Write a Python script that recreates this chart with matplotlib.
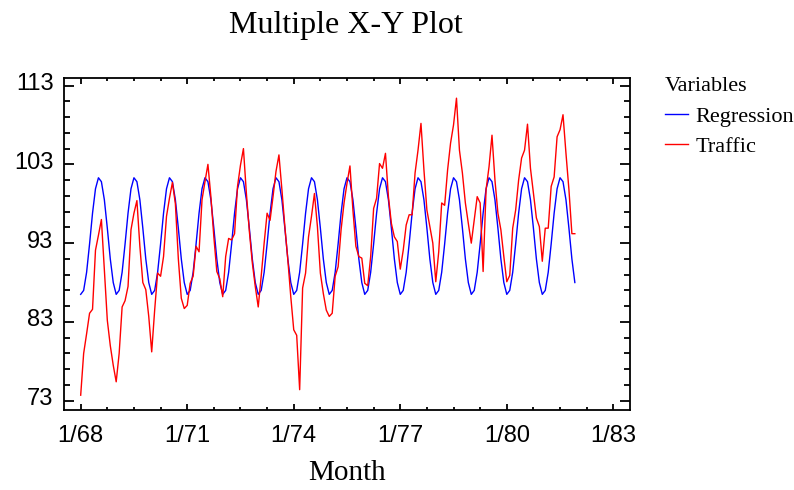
import matplotlib
matplotlib.use("Agg")
import matplotlib.pyplot as plt
import matplotlib.transforms as mtransforms
import numpy as np

# month index 0 = Jan 1968 ... 167 = Dec 1981
months = np.arange(168)

regression = [
    86.5, 87.0, 89.3, 92.9, 96.8, 99.9, 101.3, 100.8, 98.5, 94.9, 91.0, 88.0,
    86.5, 87.0, 89.3, 92.9, 96.8, 99.9, 101.3, 100.8, 98.5, 94.9, 91.0, 88.0,
    86.5, 87.0, 89.3, 92.9, 96.8, 99.9, 101.3, 100.8, 98.5, 94.9, 91.0, 88.0,
    86.5, 87.0, 89.3, 92.9, 96.8, 99.9, 101.3, 100.8, 98.5, 94.9, 91.0, 88.0,
    86.5, 87.0, 89.3, 92.9, 96.8, 99.9, 101.3, 100.8, 98.5, 94.9, 91.0, 88.0,
    86.5, 87.0, 89.3, 92.9, 96.8, 99.9, 101.3, 100.8, 98.5, 94.9, 91.0, 88.0,
    86.5, 87.0, 89.3, 92.9, 96.8, 99.9, 101.3, 100.8, 98.5, 94.9, 91.0, 88.0,
    86.5, 87.0, 89.3, 92.9, 96.8, 99.9, 101.3, 100.8, 98.5, 94.9, 91.0, 88.0,
    86.5, 87.0, 89.3, 92.9, 96.8, 99.9, 101.3, 100.8, 98.5, 94.9, 91.0, 88.0,
    86.5, 87.0, 89.3, 92.9, 96.8, 99.9, 101.3, 100.8, 98.5, 94.9, 91.0, 88.0,
    86.5, 87.0, 89.3, 92.9, 96.8, 99.9, 101.3, 100.8, 98.5, 94.9, 91.0, 88.0,
    86.5, 87.0, 89.3, 92.9, 96.8, 99.9, 101.3, 100.8, 98.5, 94.9, 91.0, 88.0,
    86.5, 87.0, 89.3, 92.9, 96.8, 99.9, 101.3, 100.8, 98.5, 94.9, 91.0, 88.0,
    86.5, 87.0, 89.3, 92.9, 96.8, 99.9, 101.3, 100.8, 98.5, 94.9, 91.0, 88.0,
]

traffic = [
    73.7, 79.0, 81.5, 84.1, 84.6, 92.1, 94.0, 96.0, 89.6, 83.2, 80.0, 77.5,    # 1968
    75.4, 79.0, 84.9, 85.7, 87.5, 94.7, 96.8, 98.4, 92.6, 88.0, 87.1, 83.7,    # 1969
    79.2, 84.5, 89.2, 88.8, 91.3, 96.4, 98.7, 100.7, 98.0, 91.0, 86.0, 84.7,   # 1970
    85.1, 87.9, 88.8, 92.6, 91.9, 98.5, 100.8, 103.0, 98.9, 93.8, 89.4, 88.5,  # 1971
    86.2, 91.3, 93.6, 93.4, 94.2, 100.2, 102.9, 105.0, 99.3, 94.5, 90.5, 87.5, # 1972
    84.9, 88.8, 93.0, 96.8, 95.9, 98.9, 102.1, 104.2, 99.8, 95.1, 90.9, 86.2,  # 1973
    82.0, 81.3, 74.4, 87.3, 89.2, 93.8, 96.4, 99.3, 95.1, 89.2, 86.6, 84.5,    # 1974
    83.7, 84.1, 88.8, 90.0, 94.7, 98.1, 100.6, 102.8, 97.2, 92.6, 91.3, 91.1,  # 1975
    87.9, 87.6, 91.3, 97.4, 98.7, 103.1, 102.5, 104.4, 98.9, 95.5, 93.8, 93.2, # 1976
    89.7, 92.1, 95.3, 96.6, 96.6, 101.9, 104.8, 108.2, 102.3, 97.2, 95.1, 93.0, # 1977
    88.1, 91.9, 98.1, 97.8, 102.3, 105.7, 108.0, 111.4, 104.8, 101.9, 98.1, 95.5, # 1978
    93.0, 96.0, 98.9, 98.1, 89.4, 99.8, 102.7, 106.7, 101.0, 96.8, 94.7, 91.3, # 1979
    88.1, 88.9, 94.9, 97.2, 101.0, 103.8, 104.8, 108.1, 102.5, 99.3, 96.2, 95.1, # 1980
    90.7, 94.9, 94.9, 100.2, 101.4, 106.5, 107.4, 109.3, 104.4, 99.8, 94.2, 94.2, # 1981
]

x_tick_labels = ["1/68", "1/71", "1/74", "1/77", "1/80", "1/83"]
y_tick_labels = ["73", "83", "93", "103", "113"]
series_names = ["Regression", "Traffic"]

SERIF = ["Liberation Serif", "DejaVu Serif"]
SANS = ["Liberation Sans", "DejaVu Sans"]

fig = plt.figure(figsize=(7.94, 4.90), dpi=100)
ax = fig.add_axes([64 / 794, 1 - 410 / 490, (630 - 64) / 794, (410 - 77.7) / 490])

ax.plot(months, regression, color="#0000ff", lw=1.0, label=series_names[0])
ax.plot(months, traffic, color="#ff0000", lw=1.0, label=series_names[1])

ax.set_xlim(-5.64, 185.64)
ax.set_ylim(71.82, 114.0)

ax.set_xticks(np.arange(0, 181, 36))
ax.set_xticklabels(x_tick_labels)
ax.set_xticks(np.arange(0, 181, 9), minor=True)
ax.set_yticks([73, 83, 93, 103, 113])
ax.set_yticklabels(y_tick_labels)
ax.set_yticks(np.arange(73, 114, 2), minor=True)

ax.tick_params(axis="both", which="both", direction="in", top=True, right=True,
               width=1.3, color="black")
ax.tick_params(axis="y", which="major", length=7.5, pad=7.5)
ax.tick_params(axis="y", which="minor", length=4)
ax.tick_params(axis="x", which="major", length=4, pad=10.5)
ax.tick_params(axis="x", which="minor", length=2.2)
for sp in ax.spines.values():
    sp.set_linewidth(1.3)

for lab in ax.get_xticklabels() + ax.get_yticklabels():
    lab.set_family(SANS)
    lab.set_fontsize(17)

shift_up = mtransforms.ScaledTranslation(0, 4 / 100, fig.dpi_scale_trans)
for lab in ax.get_yticklabels():
    lab.set_transform(lab.get_transform() + shift_up)

ax.set_xlabel("Month", family=SERIF, fontsize=21)
ax.xaxis.set_label_coords(0.5, (410 - 473) / 332.3)
ax.xaxis.label.set_va("center")

fig.text(346 / 794, 1 - 25 / 490, "Multiple X-Y Plot", family=SERIF, fontsize=23,
         ha="center", va="center")

leg = ax.legend(loc="upper left", bbox_to_anchor=(665 / 794, 1 - 77 / 490),
                bbox_transform=fig.transFigure, frameon=False, title="Variables",
                prop={"family": SERIF, "size": 16}, handlelength=1.04,
                handletextpad=0.32, labelspacing=0.45, borderaxespad=0,
                borderpad=0, alignment="left")
leg.get_title().set_family(SERIF)
leg.get_title().set_fontsize(16)

fig.savefig("out.png", dpi=100)
